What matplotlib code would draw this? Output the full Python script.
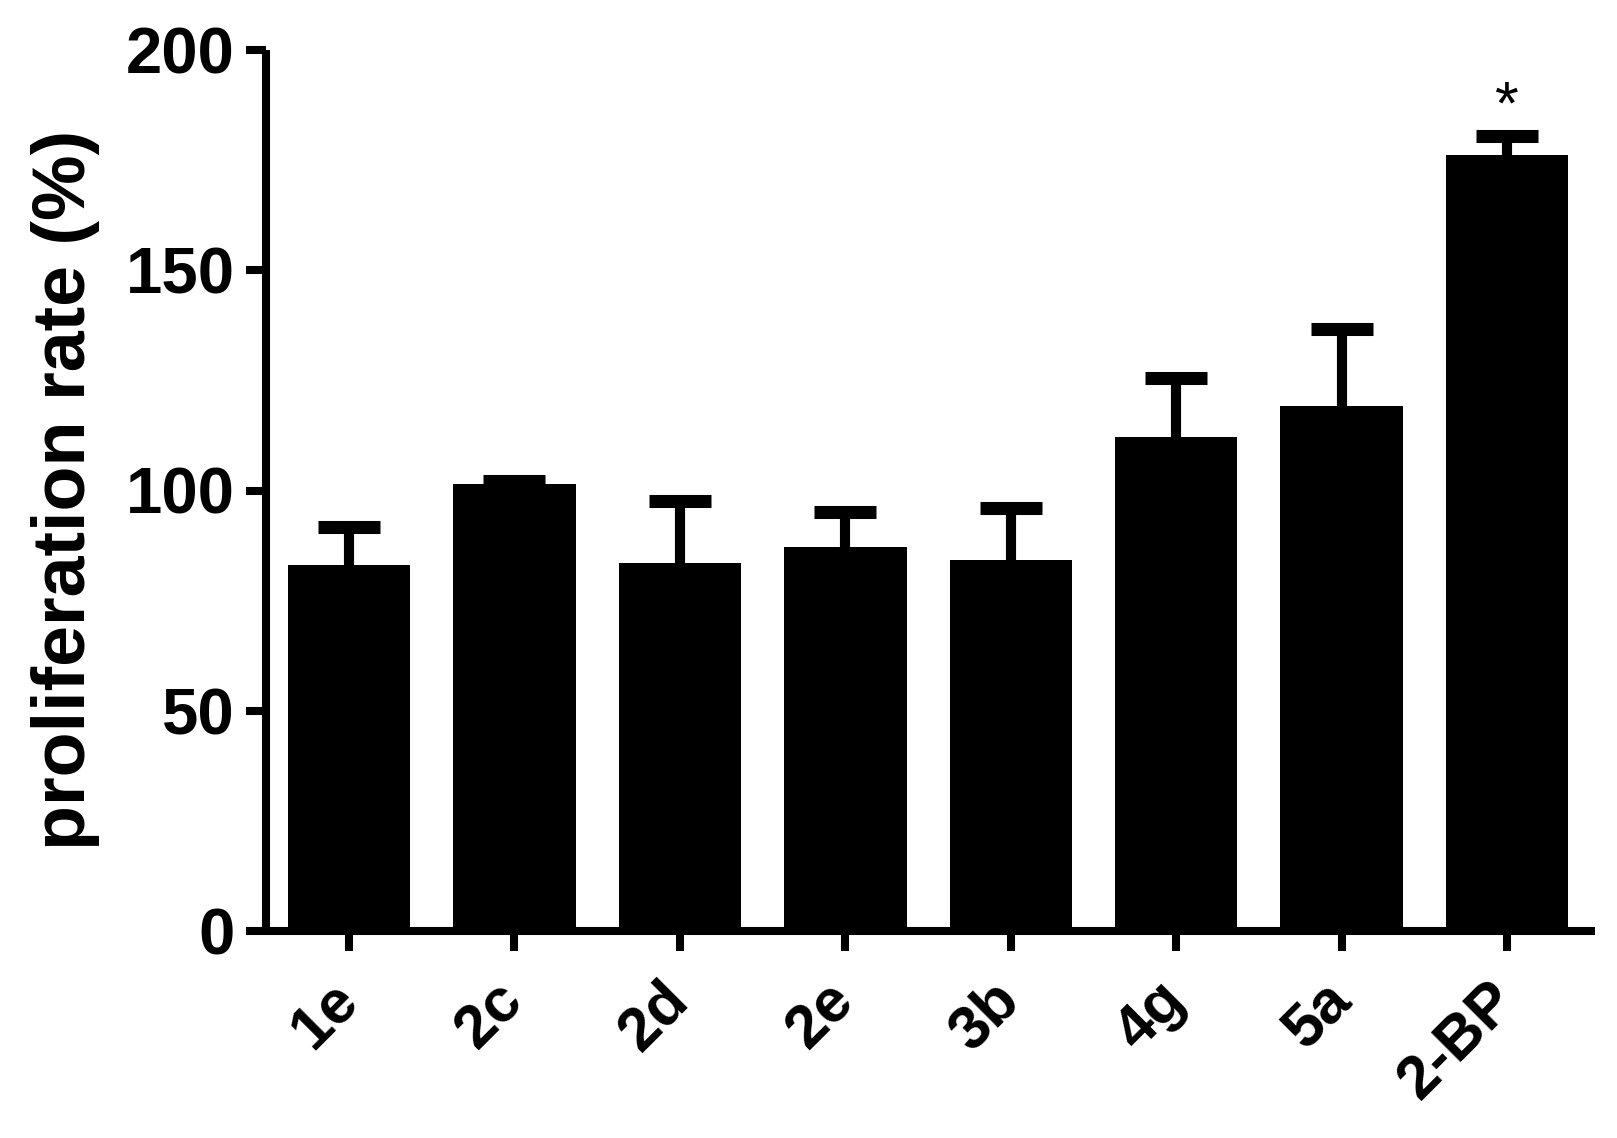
import matplotlib
matplotlib.use("Agg")
import matplotlib.pyplot as plt
from matplotlib.transforms import ScaledTranslation

categories = ["1e", "2c", "2d", "2e", "3b", "4g", "5a", "2-BP"]
means = [83.0, 101.5, 83.6, 87.2, 84.2, 112.2, 119.1, 176.2]
sems = [8.7, 0.7, 14.0, 8.0, 11.8, 13.4, 17.5, 4.3]
significant = [False, False, False, False, False, False, False, True]
yticks = [0, 50, 100, 150, 200]

plt.rcParams['font.family'] = ['Liberation Sans', 'DejaVu Sans']

W, H = 1617, 1138
fig = plt.figure(figsize=(W / 100, H / 100), dpi=100)
ax = fig.add_axes([266 / W, 1 - 931 / H, (1595 - 266) / W, (931 - 50) / H])

x = list(range(len(categories)))
ax.bar(x, means, width=0.74, color='black', edgecolor='none', zorder=3)

# upper-only error bars
upper = [m + s for m, s in zip(means, sems)]
ax.vlines(x, means, upper, color='black', linewidth=7.3, zorder=2)
ax.plot(x, upper, linestyle='none', marker='_', markersize=45,
        markeredgewidth=9.4, color='black', zorder=2)

for xi, u, sig in zip(x, upper, significant):
    if sig:
        ax.text(xi, u + 6.4, '*', ha='center', va='center', fontsize=44,
                color='black')

ax.set_xlim(-0.502, 7.532)
ax.set_ylim(0, 200)
ax.set_yticks(yticks)
ax.set_yticklabels([str(t) for t in yticks], fontsize=47, fontweight='bold')
ax.set_xticks(x)
ax.set_xticklabels([])

# rotated category labels
lab_tr = ax.get_xaxis_transform() + ScaledTranslation(-0.20, -0.40, fig.dpi_scale_trans)
for xi, cat in zip(x, categories):
    ax.text(xi, 0, cat, transform=lab_tr, fontsize=44, fontweight='bold',
            rotation=45, ha='right', va='top', rotation_mode='anchor',
            clip_on=False)

for side in ['top', 'right']:
    ax.spines[side].set_visible(False)
for side in ['left', 'bottom']:
    ax.spines[side].set_linewidth(5.8)
    ax.spines[side].set_capstyle('butt')
ax.spines['left'].set_bounds(0, 200)

ax.tick_params(axis='both', width=5.8, length=14.5, direction='out', color='black')
ax.tick_params(axis='y', pad=8)

fig.text(65 / W, 1 - 490 / H, 'proliferation rate (%)', rotation=90,
         ha='center', va='center', fontsize=53, fontweight='bold')

fig.savefig('out.png', dpi=100, facecolor='white')
